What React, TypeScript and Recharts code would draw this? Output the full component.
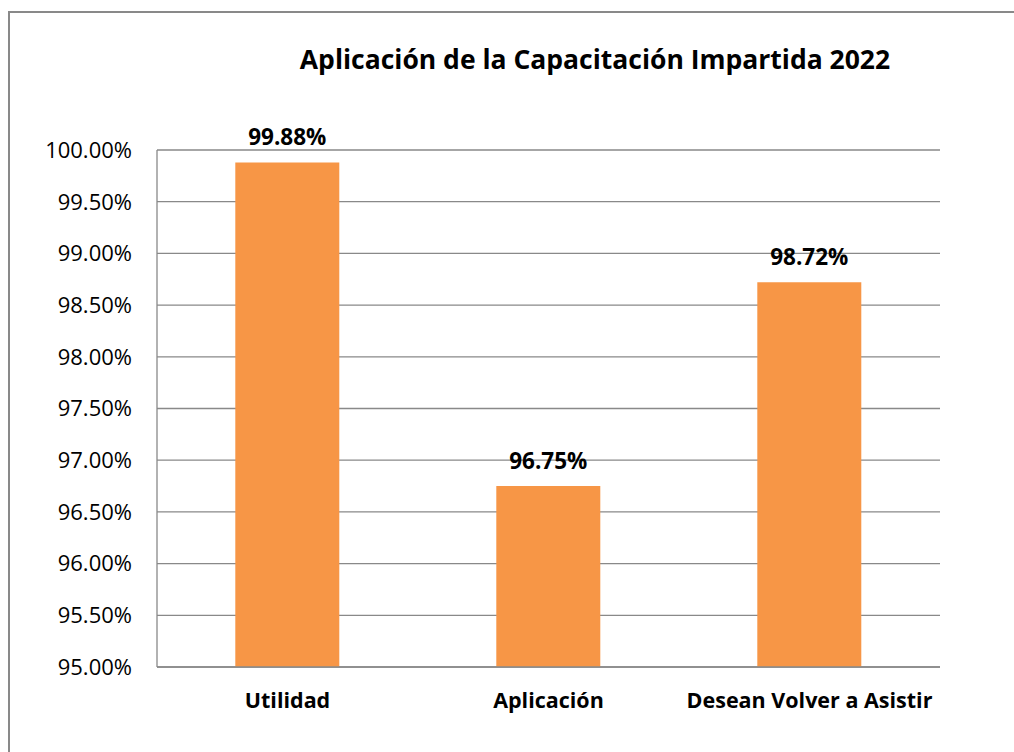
import { BarChart, Bar, XAxis, YAxis, CartesianGrid, LabelList } from "recharts";

const categories = ["Utilidad", "Aplicación", "Desean Volver a Asistir"];
const values = [99.88, 96.75, 98.72];
const yTicks = [95, 95.5, 96, 96.5, 97, 97.5, 98, 98.5, 99, 99.5, 100];

const data = categories.map((name, i) => ({ name, value: values[i] }));

const FONT = "'Open Sans', 'Liberation Sans', sans-serif";
const pct = (v: number) => `${v.toFixed(2)}%`;

export default function App() {
  return (
    <div
      style={{
        position: "absolute",
        left: 0,
        top: 0,
        width: 1014,
        height: 752,
        background: "#fff",
        overflow: "hidden",
        fontFamily: FONT,
      }}
    >
      {/* chart frame, cropped on the right and bottom */}
      <div
        style={{
          position: "absolute",
          left: 8,
          top: 11,
          width: 1100,
          height: 800,
          borderLeft: "2px solid #898989",
          borderTop: "2px solid #898989",
        }}
      />
      <div
        style={{
          position: "absolute",
          left: 0,
          width: 1014,
          top: 41,
          paddingLeft: 176,
          boxSizing: "border-box",
          textAlign: "center",
          fontWeight: 700,
          fontSize: 26.5,
          color: "#000",
        }}
      >
        Aplicación de la Capacitación Impartida 2022
      </div>
      <div style={{ position: "absolute", left: 0, top: 0 }}>
        <BarChart
          width={1014}
          height={752}
          data={data}
          margin={{ top: 150, right: 74, bottom: 55, left: 27 }}
          barCategoryGap="30%"
        >
          <CartesianGrid vertical={false} stroke="#898989" strokeWidth={1.3} />
          <XAxis
            dataKey="name"
            axisLine={{ stroke: "#898989", strokeWidth: 1.3 }}
            tickLine={false}
            tickSize={0}
            tickMargin={26}
            tick={{ fill: "#000", fontSize: 21.5, fontWeight: 700, fontFamily: FONT }}
            interval={0}
          />
          <YAxis
            width={130}
            domain={[95, 100]}
            ticks={yTicks}
            allowDataOverflow
            tickFormatter={pct}
            axisLine={{ stroke: "#898989", strokeWidth: 1.3 }}
            tickLine={false}
            tickSize={0}
            tickMargin={25}
            tick={{ fill: "#000", fontSize: 22, fontFamily: FONT }}
          />
          <Bar dataKey="value" fill="#F79646" isAnimationActive={false}>
            <LabelList
              dataKey="value"
              position="top"
              offset={17}
              formatter={(v: any) => pct(Number(v))}
              style={{ fill: "#000", fontSize: 22.5, fontWeight: 700, fontFamily: FONT }}
            />
          </Bar>
        </BarChart>
      </div>
    </div>
  );
}
